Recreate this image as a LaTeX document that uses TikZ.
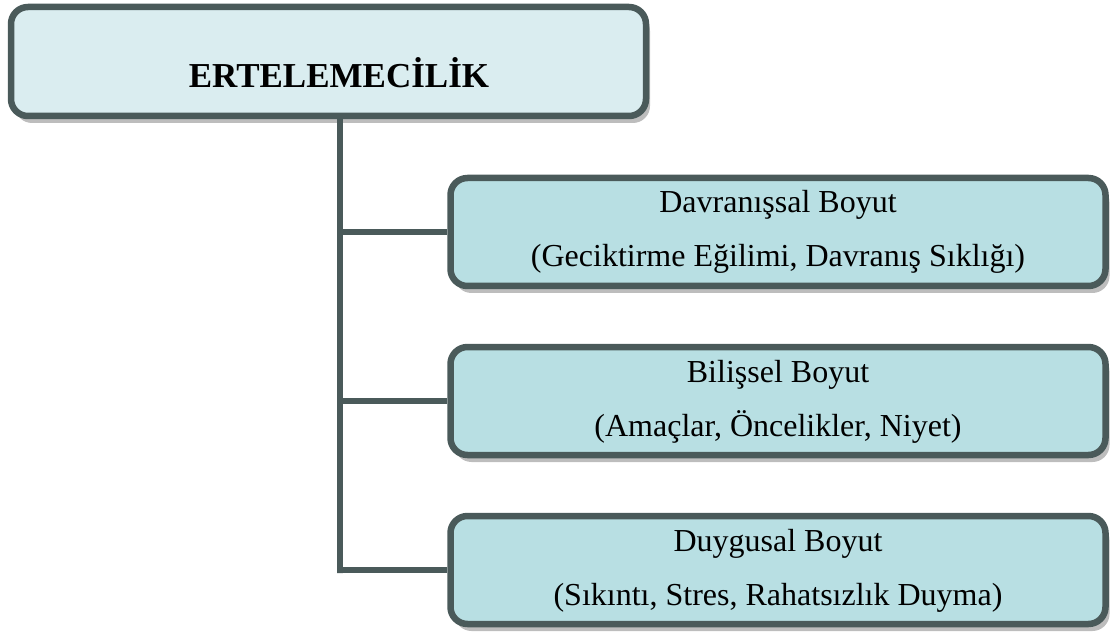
\documentclass[tikz,border=0pt]{standalone}
\usepackage{fontspec}
\setmainfont{Liberation Serif}
\usetikzlibrary{shadows}
\definecolor{edge}{HTML}{4A5A5A}
\definecolor{topfill}{HTML}{DAEDF0}
\definecolor{childfill}{HTML}{B8DFE3}
\definecolor{shade}{HTML}{BDBDBD}
\tikzset{
  boxbase/.style={draw=edge, line width=6.5pt, rounded corners=17pt, inner sep=0pt,
    drop shadow={shadow xshift=4pt, shadow yshift=-7pt, fill=shade, opacity=1}},
  topbox/.style={boxbase, fill=topfill, minimum width=635pt, minimum height=109pt},
  childbox/.style={boxbase, fill=childfill, minimum width=655pt, minimum height=108pt},
  conn/.style={draw=edge, line width=6pt},
  titletext/.style={anchor=base, inner sep=0pt, font=\fontsize{35}{40}\selectfont\bfseries},
  childtext/.style={anchor=base, inner sep=0pt, font=\fontsize{32}{36}\selectfont},
}
\begin{document}
\begin{tikzpicture}[x=1pt,y=-1pt]
\useasboundingbox (0,0) rectangle (1117,639);
\node[topbox] (top) at (328.5,61.5) {};
\node[titletext] (toptxt) at (339,88) {ERTELEMECİLİK};
\node[childbox] (c1) at (778,232) {};
\node[childbox] (c2) at (778,401) {};
\node[childbox] (c3) at (778,570) {};
\node[childtext] (c1a) at (778,213) {Davranışsal Boyut};
\node[childtext] (c1b) at (778,267) {(Geciktirme Eğilimi, Davranış Sıklığı)};
\node[childtext] (c2a) at (778,382) {Bilişsel Boyut};
\node[childtext] (c2b) at (778,436) {(Amaçlar, Öncelikler, Niyet)};
\node[childtext] (c3a) at (778,551) {Duygusal Boyut};
\node[childtext] (c3b) at (778,605) {(Sıkıntı, Stres, Rahatsızlık Duyma)};
\coordinate (j1) at (340,232);
\coordinate (j2) at (340,401);
\coordinate (j3) at (340,570);
\draw[conn] (top.south -| j1) -- ([yshift=-3pt]j3) -- (j3) -- (c3.west);
\draw[conn] (j1) -- (c1.west);
\draw[conn] (j2) -- (c2.west);
\end{tikzpicture}
\end{document}
